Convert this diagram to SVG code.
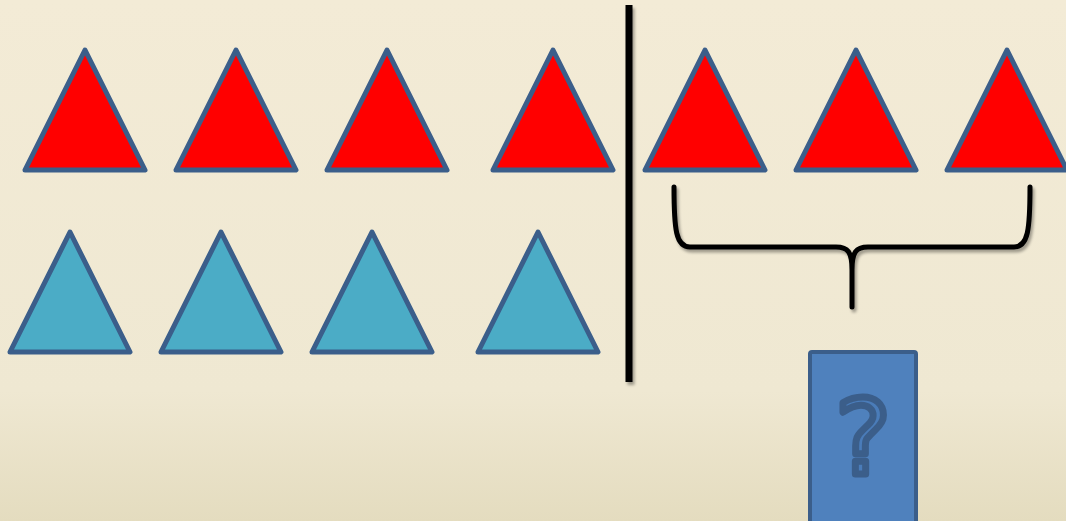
<svg xmlns="http://www.w3.org/2000/svg" width="1066" height="521" viewBox="0 0 1066 521">
<defs>
<linearGradient id="bg" x1="0" y1="0" x2="0" y2="1">
<stop offset="0" stop-color="#f3ebd6"/>
<stop offset="0.75" stop-color="#efe8d2"/>
<stop offset="1" stop-color="#e4dcbf"/>
</linearGradient>
<filter id="sh" filterUnits="userSpaceOnUse" x="0" y="0" width="1066" height="521">
<feGaussianBlur in="SourceAlpha" stdDeviation="1.5"/>
<feOffset dx="2" dy="3"/>
<feComponentTransfer><feFuncA type="linear" slope="0.35"/></feComponentTransfer>
<feMerge><feMergeNode/><feMergeNode in="SourceGraphic"/></feMerge>
</filter>
<polygon id="tri" points="0,0 60,120 -60,120"/>
</defs>
<style>
.red{fill:#ff0000;stroke:#3b5e8a;stroke-width:5;stroke-linejoin:round}
.cyan{fill:#4bacc6;stroke:#3b5e8a;stroke-width:5;stroke-linejoin:round}
.line{fill:none;stroke:#000;filter:url(#sh)}
.card{fill:#4f81bd;stroke:#3b5e8a;stroke-width:4}
.q{font-family:"DejaVu Sans","Liberation Sans",sans-serif;font-size:104px;fill:#4a7cb9;stroke:#3b5e8a;stroke-width:7;stroke-linejoin:round;text-anchor:middle}
</style>
<rect width="1066" height="521" fill="url(#bg)"/>
<g id="red1"><use href="#tri" x="85" y="50" class="red"/></g>
<g id="red2"><use href="#tri" x="236" y="50" class="red"/></g>
<g id="red3"><use href="#tri" x="387" y="50" class="red"/></g>
<g id="red4"><use href="#tri" x="553" y="50" class="red"/></g>
<g id="red5"><use href="#tri" x="705" y="50" class="red"/></g>
<g id="red6"><use href="#tri" x="856" y="50" class="red"/></g>
<g id="red7"><use href="#tri" x="1007" y="50" class="red"/></g>
<g id="blue1"><use href="#tri" x="70" y="232" class="cyan"/></g>
<g id="blue2"><use href="#tri" x="221" y="232" class="cyan"/></g>
<g id="blue3"><use href="#tri" x="372" y="232" class="cyan"/></g>
<g id="blue4"><use href="#tri" x="538" y="232" class="cyan"/></g>
<g id="connectors">
<line class="line" x1="629" y1="5" x2="629" y2="382" style="stroke-width:7"/>
<path class="line" d="M674,187 C674,230 676,247 690,247 L836,247 C848,247 852,252 852,270 L852,307 M852,307 L852,270 C852,252 856,247 868,247 L1014,247 C1028,247 1030,230 1030,187" style="stroke-width:5;stroke-linejoin:round;stroke-linecap:round"/>
</g>
<g id="card">
<rect class="card" x="810" y="352" width="106" height="175" rx="2"/>
<text class="q" x="863" y="474">?</text>
</g>
</svg>
